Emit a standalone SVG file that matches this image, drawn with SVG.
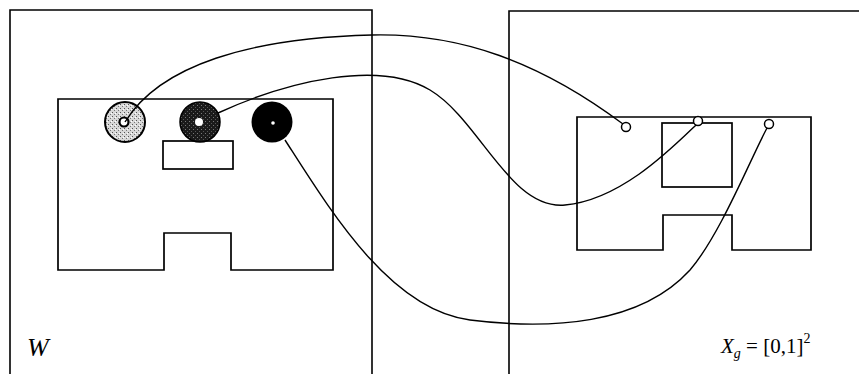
<svg xmlns="http://www.w3.org/2000/svg" width="859" height="374" viewBox="0 0 859 374">
<defs>
<pattern id="lightdots" width="4" height="4" patternUnits="userSpaceOnUse">
<rect width="4" height="4" fill="#d8d8d8"/>
<rect x="0" y="0" width="1" height="1" fill="#555"/>
<rect x="2" y="2" width="1" height="1" fill="#777"/>
<rect x="3" y="1" width="1" height="1" fill="#fff"/>
</pattern>
<pattern id="darkdots" width="4" height="4" patternUnits="userSpaceOnUse">
<rect width="4" height="4" fill="#1a1a1a"/>
<rect x="1" y="1" width="1" height="1" fill="#777"/>
<rect x="3" y="3" width="1" height="1" fill="#555"/>
</pattern>
</defs>
<style>
.frame{fill:none;stroke:#000;stroke-width:1.6}
.shape{fill:none;stroke:#000;stroke-width:1.7}
.wire{fill:none;stroke:#000;stroke-width:1.4}
.port{fill:#fff;stroke:#000;stroke-width:1.5}
.lbl{font-family:"Liberation Serif","Times New Roman",serif;fill:#000}
</style>
<rect width="859" height="374" fill="#fff"/>
<g id="panel-W">
<path class="frame" d="M10,374 V10 H372 V374"/>
<text class="lbl" x="27" y="356" font-size="26" font-style="italic">W</text>
</g>
<g id="panel-Xg">
<path class="frame" d="M509,374 V11 H859"/>
<text class="lbl" x="721" y="353" font-size="21"><tspan font-style="italic">X</tspan><tspan font-style="italic" font-size="14" dy="5">g</tspan><tspan dy="-5"> = [0,1]</tspan><tspan font-size="14" dy="-10">2</tspan></text>
</g>
<g id="robot-W">
<path class="shape" d="M58,99 H333 V270 H231 V233 H164 V270 H58 Z"/>
<rect class="shape" x="163" y="141" width="70" height="28"/>
</g>
<g id="obstacle-1">
<circle cx="125" cy="122" r="20" fill="url(#lightdots)" stroke="#000" stroke-width="2"/>
<circle cx="124" cy="122" r="4.5" fill="#fff" stroke="#000" stroke-width="2.2"/>
</g>
<g id="obstacle-2">
<circle cx="200" cy="122" r="20" fill="url(#darkdots)" stroke="#000" stroke-width="1.5"/>
<circle cx="199" cy="122" r="4" fill="#fff"/>
</g>
<g id="obstacle-3">
<circle cx="272" cy="122" r="20.5" fill="#000"/>
<circle cx="273" cy="123" r="1.8" fill="#fff"/>
</g>
<g id="robot-Xg">
<path class="shape" d="M577,117 H811 V250 H732 V215 H663 V250 H577 Z"/>
<rect class="shape" x="662" y="123" width="70" height="64"/>
</g>
<g id="connectors">
<path class="wire" d="M125,122 C160,65 250,38 372,35 C460,33 540,62 623,124"/>
<path class="wire" d="M218,113 C290,80 380,60 430,90 C480,120 510,210 565,205 C620,200 670,150 696,125"/>
<path class="wire" d="M285,140 C330,210 390,310 470,320 C550,330 640,325 690,270 C720,235 750,160 767,128"/>
</g>
<g id="ports">
<circle class="port" cx="626" cy="127" r="4.5"/>
<circle class="port" cx="698" cy="121" r="4.5"/>
<circle class="port" cx="769" cy="124" r="4.5"/>
</g>
</svg>
